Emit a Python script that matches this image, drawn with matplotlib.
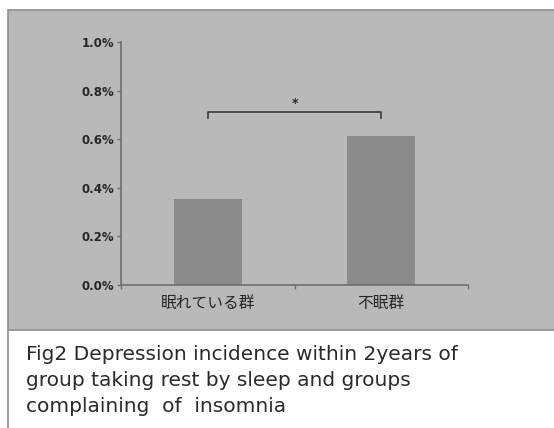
import matplotlib
matplotlib.use("Agg")
import matplotlib.pyplot as plt
from matplotlib.patches import Rectangle
from matplotlib.lines import Line2D

plt.rcParams['font.family'] = ['Noto Sans CJK JP', 'DejaVu Sans']

categories = ["眠れている群", "不眠群"]
values = [0.354, 0.613]          # percent
yticks = [0.0, 0.2, 0.4, 0.6, 0.8, 1.0]
ytick_labels = ["0.0%", "0.2%", "0.4%", "0.6%", "0.8%", "1.0%"]
bracket_low, bracket_high = 0.687, 0.712
signif = "*"
caption = ["Fig2 Depression incidence within 2years of",
           "group taking rest by sleep and groups",
           "complaining  of  insomnia"]

W, H = 554, 428
fig = plt.figure(figsize=(W / 100, H / 100), dpi=100)
fig.patch.set_facecolor("white")

# gray panel
panel = Rectangle((8 / W, 1 - 330 / H), 1.0, (330 - 10) / H, transform=fig.transFigure,
                  facecolor="#b9b9b9", edgecolor="#8e8e8e", linewidth=1.2, zorder=-5)
fig.patches.append(panel)
fig.lines.append(Line2D([8 / W, 8 / W], [0, 1 - 330 / H], transform=fig.transFigure,
                        color="#8e8e8e", linewidth=1.2, zorder=-5))

ax = fig.add_axes([121 / W, 1 - 285 / H, (468 - 121) / W, (285 - 42) / H])
ax.set_zorder(5)
ax.set_facecolor("none")
x = list(range(len(categories)))
ax.bar(x, values, width=0.39, color="#8b8b8b", zorder=2)
ax.set_xlim(-0.5, 1.5)
ax.set_ylim(0, 1.0)
ax.set_yticks(yticks)
ax.set_yticklabels(ytick_labels, fontsize=8.5, color="#262626", family="DejaVu Sans",
                   fontweight="semibold")
ax.set_xticks(x)
ax.set_xticklabels(categories, fontsize=11.3, color="#262626")
ax.tick_params(axis="x", length=0, pad=7)
ax.tick_params(axis="y", length=3, color="#6e6e6e", width=1, pad=2)
ax.set_xticks([-0.5, 0.5, 1.5], minor=True)
ax.tick_params(axis="x", which="minor", length=3, color="#6e6e6e", width=1)
for s in ["top", "right"]:
    ax.spines[s].set_visible(False)
for s in ["left", "bottom"]:
    ax.spines[s].set_color("#6e6e6e")
    ax.spines[s].set_linewidth(1.2)

ax.plot([0, 0, 1, 1], [bracket_low, bracket_high, bracket_high, bracket_low],
        color="#3a3a3a", linewidth=1.2, clip_on=False)
ax.text(0.5, bracket_high + 0.01, signif, ha="center", va="bottom", fontsize=9,
        color="#2a2a2a", family="DejaVu Sans", fontweight="bold")

for i, line in enumerate(caption):
    fig.text(26 / W, 1 - (354 + i * 26) / H, line, ha="left", va="center",
             fontsize=14.5, color="#2a2a2a", family="DejaVu Sans")

fig.savefig("out.png", dpi=100)
